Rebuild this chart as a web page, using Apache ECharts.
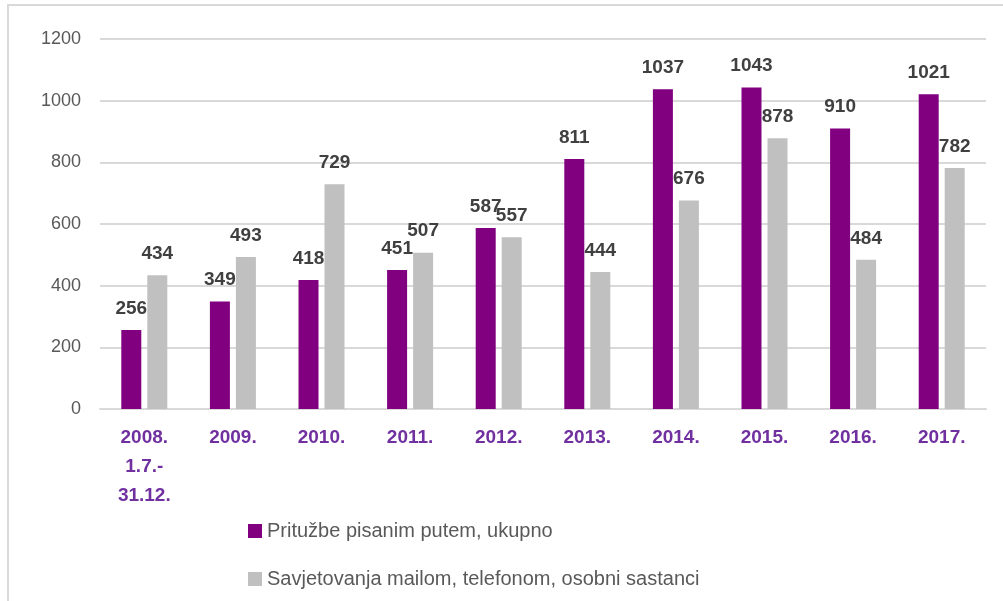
<!DOCTYPE html>
<html>
<head>
<meta charset="utf-8">
<script src="https://cdn.jsdelivr.net/npm/echarts@6/dist/echarts.min.js"></script>
<style>
  html, body { margin: 0; padding: 0; background: #fff; }
  #main { width: 1003px; height: 601px; }
</style>
</head>
<body>
<div id="main"></div>
<script>
// podaci
const years = ['2008.\n1.7.-\n31.12.', '2009.', '2010.', '2011.', '2012.', '2013.', '2014.', '2015.', '2016.', '2017.'];
const complaints = [256, 349, 418, 451, 587, 811, 1037, 1043, 910, 1021];
const consultations = [434, 493, 729, 507, 557, 444, 676, 878, 484, 782];
const yTicks = [0, 200, 400, 600, 800, 1000, 1200];
const seriesNames = ['Pritužbe pisanim putem, ukupno', 'Savjetovanja mailom, telefonom, osobni sastanci'];

const font = 'Liberation Sans';
const chart = echarts.init(document.getElementById('main'));

const barLabel = {
  show: true,
  position: 'top',
  distance: 12,
  color: '#404040',
  fontFamily: font,
  fontWeight: 'bold',
  fontSize: 19
};

chart.setOption({
  animation: false,
  graphic: [{
    type: 'rect',
    shape: { x: 8, y: 5, width: 1200, height: 800 },
    style: { fill: 'none', stroke: '#d9d9d9', lineWidth: 2 },
    silent: true
  }],
  grid: { left: 100, right: 17, top: 39, bottom: 192 },
  legend: {
    orient: 'vertical',
    left: 243,
    top: 516,
    itemWidth: 14,
    itemHeight: 14,
    itemGap: 28,
    icon: 'rect',
    textStyle: { color: '#595959', fontFamily: font, fontSize: 20 }
  },
  xAxis: {
    type: 'category',
    data: years,
    axisLine: { lineStyle: { color: '#d9d9d9', width: 2 } },
    axisTick: { show: false },
    axisLabel: {
      color: '#7030a0',
      fontFamily: font,
      fontWeight: 'bold',
      fontSize: 19,
      lineHeight: 29,
      margin: 14,
      interval: 0
    }
  },
  yAxis: {
    type: 'value',
    min: yTicks[0],
    max: yTicks[yTicks.length - 1],
    interval: 200,
    axisLine: { show: false },
    axisTick: { show: false },
    splitLine: { lineStyle: { color: '#d9d9d9', width: 2 } },
    axisLabel: {
      color: '#595959',
      fontFamily: font,
      fontSize: 18,
      margin: 19,
      formatter: v => String(v)
    }
  },
  series: [
    {
      name: seriesNames[0],
      type: 'bar',
      data: complaints,
      barWidth: 20,
      barGap: '30%',
      itemStyle: { color: '#800080' },
      label: barLabel
    },
    {
      name: seriesNames[1],
      type: 'bar',
      data: consultations,
      barWidth: 20,
      itemStyle: { color: '#c0c0c0' },
      label: barLabel
    }
  ]
});
</script>
</body>
</html>
